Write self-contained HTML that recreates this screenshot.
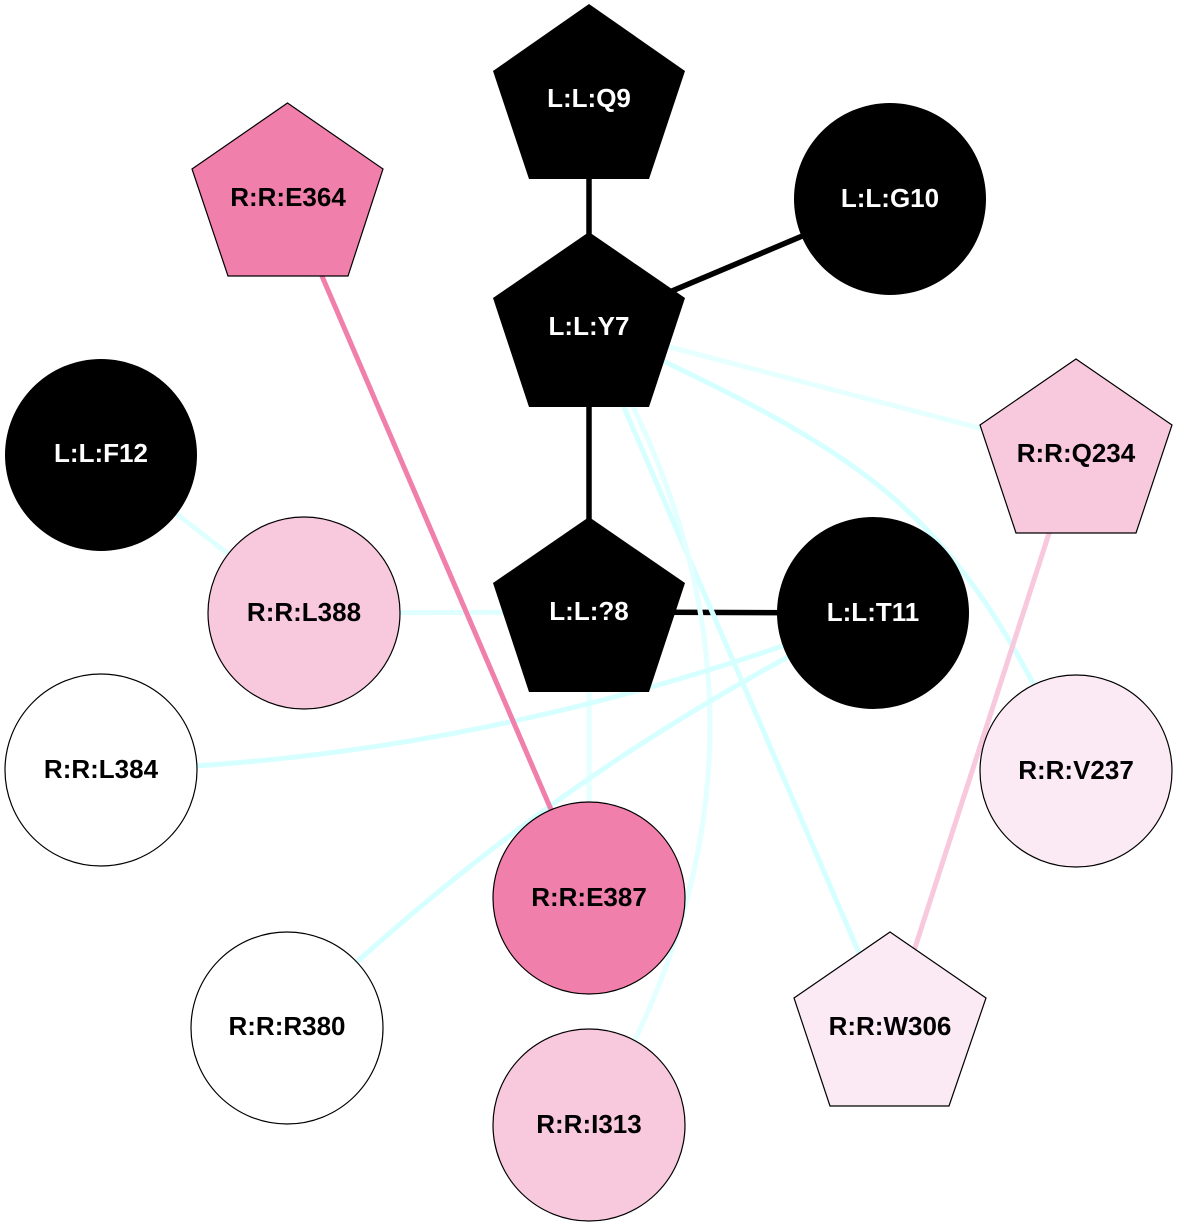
<!DOCTYPE html>
<html>
<head>
<meta charset="utf-8">
<style>
  html, body { margin: 0; padding: 0; background: #ffffff; }
  svg { display: block; }
  text { font-family: "Liberation Sans", Arial, sans-serif; font-weight: bold; font-size: 26px; text-anchor: middle; }
</style>
</head>
<body>
<svg width="1177" height="1228" viewBox="0 0 1177 1228" xmlns="http://www.w3.org/2000/svg">
  <rect x="0" y="0" width="1177" height="1228" fill="#ffffff"/>

  <!-- black edges -->
  <g stroke="#000000" stroke-width="5.5" fill="none">
    <line x1="589" y1="98" x2="589" y2="326"/>
    <line x1="589" y1="326" x2="890" y2="199"/>
    <line x1="589" y1="326" x2="589" y2="611"/>
    <line x1="589" y1="612" x2="873" y2="613"/>
  </g>

  <!-- light cyan edges -->
  <g fill="none" stroke-width="5" stroke-linecap="butt">
    <line x1="589" y1="326" x2="1075" y2="453" stroke="#e6ffff"/>
    <path d="M589,326 C866,456 952,498 1076,771" stroke="#d6ffff"/>
    <line x1="589" y1="326" x2="890" y2="1025" stroke="#d6ffff"/>
    <path d="M589,326 Q831,725 589,1125" stroke="#e3ffff"/>
    <line x1="101" y1="455" x2="304" y2="613" stroke="#e0ffff"/>
    <line x1="304" y1="613" x2="589" y2="612" stroke="#e0ffff"/>
    <line x1="589" y1="612" x2="589" y2="898" stroke="#e6ffff"/>
    <path d="M873,613 Q487,762 101,770" stroke="#d6ffff"/>
    <path d="M873,613 Q546,773 287,1028" stroke="#d6ffff"/>
  </g>

  <!-- pink edges -->
  <line x1="288" y1="197" x2="589" y2="898" stroke="#f07fac" stroke-width="5"/>
  <line x1="1075" y1="453" x2="890" y2="1025" stroke="#f8c8dc" stroke-width="5"/>

  <!-- nodes -->
  <!-- L:L:Q9 -->
  <polygon points="589,4 685,71 649,179 529,179 493,71" fill="#000000"/>
  <text x="589" y="107" fill="#ffffff">L:L:Q9</text>

  <!-- L:L:G10 -->
  <circle cx="890" cy="199" r="96" fill="#000000"/>
  <text x="890" y="207" fill="#ffffff">L:L:G10</text>

  <!-- R:R:E364 -->
  <polygon points="287.5,103 383,169 348,276 228,276 192,169" fill="#f07fac" stroke="#000000" stroke-width="1.2"/>
  <text x="288" y="206" fill="#000000">R:R:E364</text>

  <!-- L:L:Y7 -->
  <polygon points="589,232 685,298 649,407 529,407 493,298" fill="#000000"/>
  <text x="589" y="335" fill="#ffffff">L:L:Y7</text>

  <!-- L:L:F12 -->
  <circle cx="101" cy="455" r="96" fill="#000000"/>
  <text x="101" y="462" fill="#ffffff">L:L:F12</text>

  <!-- R:R:Q234 -->
  <polygon points="1076,359 1172,425 1136,533 1016,533 980,425" fill="#f8c8dc" stroke="#000000" stroke-width="1.2"/>
  <text x="1076" y="462" fill="#000000">R:R:Q234</text>

  <!-- R:R:L388 -->
  <circle cx="304" cy="613" r="96" fill="#f8c8dc" stroke="#000000" stroke-width="1.2"/>
  <text x="304" y="621" fill="#000000">R:R:L388</text>

  <!-- L:L:?8 -->
  <polygon points="589,517 685,583 649,692 529,692 493,583" fill="#000000"/>
  <text x="589" y="620" fill="#ffffff">L:L:?8</text>

  <!-- L:L:T11 -->
  <circle cx="873" cy="613" r="96" fill="#000000"/>
  <text x="873" y="621" fill="#ffffff">L:L:T11</text>

  <!-- R:R:L384 -->
  <circle cx="101" cy="770" r="96" fill="#ffffff" stroke="#000000" stroke-width="1.2"/>
  <text x="101" y="778" fill="#000000">R:R:L384</text>

  <!-- R:R:V237 -->
  <circle cx="1076" cy="771" r="96" fill="#fbeaf3" stroke="#000000" stroke-width="1.2"/>
  <text x="1076" y="779" fill="#000000">R:R:V237</text>

  <!-- R:R:E387 -->
  <circle cx="589" cy="898" r="96" fill="#f07fac" stroke="#000000" stroke-width="1.2"/>
  <text x="589" y="906" fill="#000000">R:R:E387</text>

  <!-- R:R:R380 -->
  <circle cx="287" cy="1028" r="96" fill="#ffffff" stroke="#000000" stroke-width="1.2"/>
  <text x="287" y="1035" fill="#000000">R:R:R380</text>

  <!-- R:R:W306 -->
  <polygon points="890,932 986,998 949,1106 830,1106 794,998" fill="#fbeaf3" stroke="#000000" stroke-width="1.2"/>
  <text x="890" y="1035" fill="#000000">R:R:W306</text>

  <!-- R:R:I313 -->
  <circle cx="589" cy="1125" r="96" fill="#f8c8dc" stroke="#000000" stroke-width="1.2"/>
  <text x="589" y="1133" fill="#000000">R:R:I313</text>
</svg>
</body>
</html>
